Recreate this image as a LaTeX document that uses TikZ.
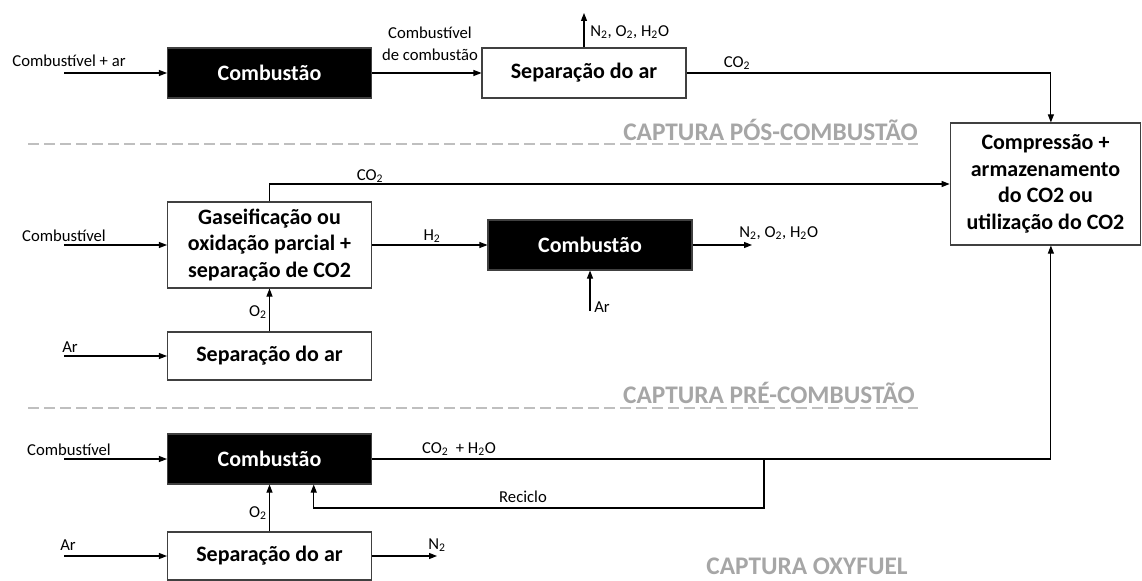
\documentclass[tikz,border=0pt]{standalone}
\usepackage{fontspec}
\setmainfont{Carlito}
\usetikzlibrary{arrows.meta}
\definecolor{capgray}{RGB}{166,166,166}
\definecolor{dashgray}{RGB}{191,191,191}
\definecolor{boxline}{RGB}{64,64,64}

\begin{document}
\begin{tikzpicture}[x=0.75pt, y=-0.75pt,
    flow/.style={-{Triangle[length=6pt,width=4.5pt]}, line width=0.8pt},
    darkbox/.style={fill=black, draw=boxline, line width=0.8pt, text=white, font=\fontsize{16.5}{20}\selectfont\bfseries, minimum width=153pt, minimum height=37.5pt, inner sep=0pt},
    lightbox/.style={fill=white, draw=boxline, line width=0.8pt, font=\fontsize{16.5}{20}\selectfont\bfseries, minimum width=153pt, minimum height=36pt, inner sep=0pt, align=center},
    lbl/.style={font=\fontsize{12.5}{16.5}\selectfont, inner sep=0pt},
    capt/.style={font=\fontsize{19}{22}\selectfont\bfseries, text=capgray, inner sep=0pt},
    sepline/.style={dashgray, line width=0.9pt, dash pattern=on 8pt off 4pt}]
    \useasboundingbox (0,0) rectangle (1142,581);

    \node[darkbox] (comb1) at (269.5,73) {Combustão};
    \node[lightbox, minimum height=37.5pt] (sep1) at (584,73) {Separação do ar};
    \node[lightbox, minimum width=143pt, minimum height=91.5pt] (comp) at (1045.5,184) {Compressão +\\armazenamento\\do CO2 ou\\utilização do CO2};
    \node[lightbox, minimum height=64.5pt] (gas) at (269.5,245) {Gaseificação ou\\oxidação parcial +\\separação de CO2};
    \node[darkbox] (comb2) at (590,245) {Combustão};
    \node[lightbox] (sep2) at (269.5,356) {Separação do ar};
    \node[darkbox] (comb3) at (269.5,459) {Combustão};
    \node[lightbox] (sep3) at (269.5,556) {Separação do ar};

    \coordinate (in1) at (64,73);
    \coordinate (in2) at (64,245);
    \coordinate (in3) at (64,356);
    \coordinate (in4) at (64,459);
    \coordinate (in5) at (64,556);
    \coordinate (out1) at (584,13);
    \coordinate (out2) at (752,245);
    \coordinate (ar2) at (590,311);
    \coordinate (out3) at (437,556);
    \coordinate (split) at (764,459);

    \draw[flow] (in1) -- (comb1.west);
    \draw[flow] (comb1) -- (sep1);
    \draw[flow] (sep1.north) -- (out1);
    \draw[flow] (sep1.east) -| (comp.85);
    \draw[flow] (gas.north) |- (comp.west);
    \draw[flow] (in2) -- (gas.west);
    \draw[flow] (gas) -- (comb2);
    \draw[flow] (comb2.east) -- (out2);
    \draw[flow] (ar2) -- (comb2.south);
    \draw[flow] (sep2) -- (gas);
    \draw[flow] (in3) -- (sep2.west);
    \draw[flow] (comb3.east) -| (comp.-85);
    \draw[flow] (split) -- ++(0,49) -| (comb3.-30);
    \draw[flow] (in4) -- (comb3.west);
    \draw[flow] (sep3) -- (comb3);
    \draw[flow] (in5) -- (sep3.west);
    \draw[flow] (sep3.east) -- (out3);

    \node[lbl] (l-in1) at (69,61) {Combustível + ar};
    \node[lbl, align=center] (l-gases) at (430,44) {Combustível\\de combustão};
    \node[lbl, anchor=west] (l-out1) at (590,32) {N\textsubscript{2}, O\textsubscript{2}, H\textsubscript{2}O};
    \node[lbl] (l-co2a) at (737,63) {CO\textsubscript{2}};
    \node[capt, anchor=east] (cap1) at (918,130) {CAPTURA PÓS-COMBUSTÃO};
    \draw[sepline] (28,144) -- (918,144);

    \node[lbl] (l-co2b) at (370,176) {CO\textsubscript{2}};
    \node[lbl] (l-in2) at (64,236) {Combustível};
    \node[lbl] (l-h2) at (432,236) {H\textsubscript{2}};
    \node[lbl, anchor=west] (l-out2) at (739,233) {N\textsubscript{2}, O\textsubscript{2}, H\textsubscript{2}O};
    \node[lbl, anchor=west] (l-ar2) at (594,307) {Ar};
    \node[lbl] (l-o2a) at (258,312) {O\textsubscript{2}};
    \node[lbl] (l-in3) at (70,347) {Ar};
    \node[capt, anchor=east] (cap2) at (915,393) {CAPTURA PRÉ-COMBUSTÃO};
    \draw[sepline] (28,408) -- (918,408);

    \node[lbl] (l-in4) at (69,450) {Combustível};
    \node[lbl] (l-co2c) at (459,449) {CO\textsubscript{2}~ + H\textsubscript{2}O};
    \node[lbl] (l-rec) at (523,497) {Reciclo};
    \node[lbl] (l-o2b) at (258,513) {O\textsubscript{2}};
    \node[lbl] (l-in5) at (68,545) {Ar};
    \node[lbl] (l-n2) at (437,545) {N\textsubscript{2}};
    \node[capt] (cap3) at (807,566) {CAPTURA OXYFUEL};
\end{tikzpicture}
\end{document}
